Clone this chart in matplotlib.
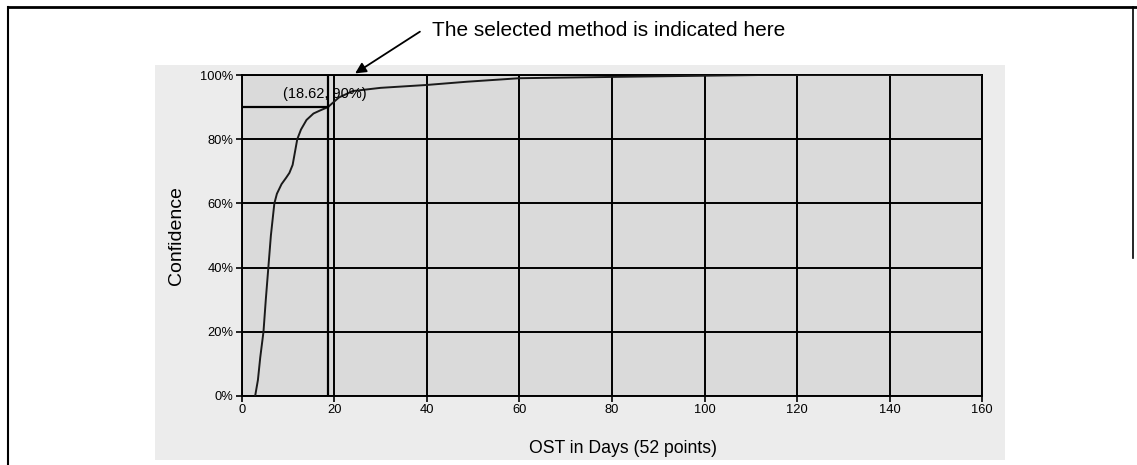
import matplotlib
matplotlib.use("Agg")
import matplotlib.pyplot as plt
from matplotlib.patches import Rectangle
from matplotlib.lines import Line2D

# ---- data ----
ost_days = [2.9, 3.5, 4.0, 4.7, 5.2, 5.75, 6.3, 7.05, 7.6, 8.6, 9.6, 10.3,
            11.0, 11.5, 12.0, 12.8, 14.0, 15.5, 17.0, 18.62, 21.0, 24.0,
            30.0, 40.0, 48.6, 60.0, 85.0, 112.0, 160.0]
confidence = [0, 5, 12, 20, 30, 40, 50, 60, 63, 66, 68, 69.5,
              72, 76, 80, 83, 86, 88, 89, 90, 93, 95,
              96, 96.9, 97.9, 99, 99.5, 100, 100]
selected_x = 18.62
selected_y = 90
x_ticks = [0, 20, 40, 60, 80, 100, 120, 140, 160]
y_ticks = [0, 20, 40, 60, 80, 100]
y_tick_labels = ["0%", "20%", "40%", "60%", "80%", "100%"]
x_label = "OST in Days (52 points)"
y_label = "Confidence"
point_label = "(18.62, 90%)"
note_text = "The selected method is indicated here"

plt.rcParams['font.family'] = ['Liberation Sans', 'DejaVu Sans']

fig = plt.figure(figsize=(11.37, 4.65), dpi=100)
fig.patch.set_facecolor('white')

# chart area background
fig.add_artist(Rectangle((0.1363, 0.0108), 0.7476, 0.849, transform=fig.transFigure,
                         facecolor='#ececec', edgecolor='none', zorder=0))
# outer frame lines
fig.add_artist(Line2D([0.007, 1.0], [0.985, 0.985], transform=fig.transFigure,
                      color='black', lw=2.0))
fig.add_artist(Line2D([0.007, 0.007], [0.0, 0.985], transform=fig.transFigure,
                      color='black', lw=1.5))
fig.add_artist(Line2D([0.9965, 0.9965], [0.445, 0.985], transform=fig.transFigure,
                      color='black', lw=1.2))

ax = fig.add_axes([0.2126, 0.1484, 0.6513, 0.6903])
ax.set_facecolor('#dadada')
ax.set_xlim(0, 160)
ax.set_ylim(0, 100)
ax.set_xticks(x_ticks)
ax.set_yticks(y_ticks)
ax.set_yticklabels(y_tick_labels)
ax.grid(True, color='black', lw=1.4)
ax.set_axisbelow(True)
for s in ax.spines.values():
    s.set_color('black')
    s.set_linewidth(1.4)
ax.tick_params(axis='both', direction='out', length=4, width=1.2, labelsize=9.3,
               colors='black', pad=2)

ax.plot(ost_days, confidence, color='#1a1a1a', lw=1.4, zorder=3)

# selected point marker lines
ax.plot([selected_x, selected_x], [0, 100], color='black', lw=1.6, zorder=3)
ax.plot([0, selected_x], [selected_y, selected_y], color='black', lw=1.6, zorder=3)
ax.text(8.9, 94.0, point_label, fontsize=10.5, ha='left', va='center', zorder=4)

ax.set_ylabel(y_label, fontsize=14)
ax.yaxis.set_label_coords(-0.077, 0.5)
ax.set_xlabel(x_label, fontsize=12.7)
ax.xaxis.set_label_coords(0.515, -0.137)

ax.annotate("", xy=(24.5, 100.5), xytext=(38.5, 113.5), xycoords='data',
            textcoords='data', annotation_clip=False,
            arrowprops=dict(arrowstyle='-|>', color='black', lw=1.3,
                            mutation_scale=16, shrinkA=0, shrinkB=0))
ax.text(41.1, 114.0, note_text, fontsize=15, ha='left', va='center',
        clip_on=False)

fig.savefig("out.png", dpi=100)
